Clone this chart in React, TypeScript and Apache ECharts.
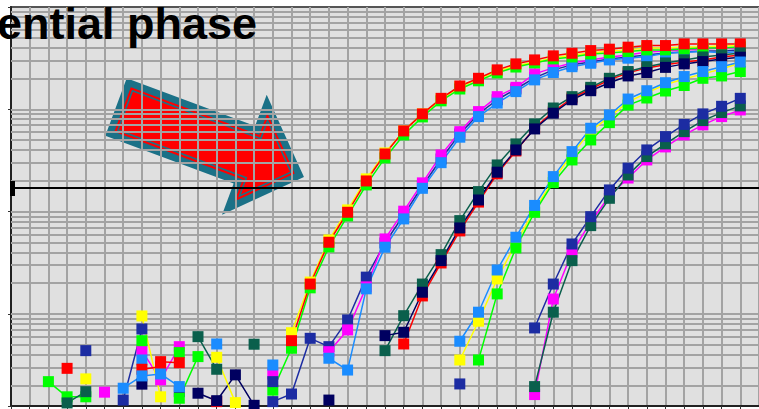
import React, { useEffect, useRef } from "react";
import * as echarts from "echarts";

const N = null;

// Fluorescence (RFU) per cycle, index = cycle 0..39 ; null = no point
const dblueB: (number | null)[] = [N, N, N, N, 43.8, N, 14.4, 71.3, N, 17.4, N, N, N, N, 13.9, 16.5, 57.8, 47.9, 87.4, 229, 494, 929, 1780, 3270, 5750, 9020, 12400, 15800, 20300, 24300, 27200, 29000, 31100, 32500, 34000, 35600, 36400, 37200, 37200, 38100];
const magentaB: (number | null)[] = [N, N, N, N, N, 17.2, N, 43.8, 22.7, 47.9, N, N, N, N, 25.9, N, N, 42.8, 69.8, 184, 541, 1010, 1910, 3580, 6050, 9500, 13300, 16400, 22200, 25400, 28400, 30400, 32500, 34000, 36400, 37200, 38100, 38900, 39800, 39800];
const azureB: (number | null)[] = [N, N, N, N, N, N, N, 35.5, N, N, N, N, N, N, 31.7, N, N, 36.9, 28.3, 176, 449, 849, 1690, 3010, 5340, 8490, 11500, 14900, 19400, 22900, 26100, 28200, 30400, 31600, 32800, 35300, 36100, 36700, 35800, 36700];
const yellowA: (number | null)[] = [N, N, N, N, 23.2, N, N, 95.6, 15.5, N, N, N, N, N, N, 65.6, 205, 529, 1040, 2090, 3750, 6150, 9020, 12600, 16600, 19800, 23700, 26600, 29000, 31800, 34000, 35600, 37200, 38100, 39800, 39800, 40700, 40700, 41700, 41700];
const greenA: (number | null)[] = [N, N, 21.8, 15.5, 15.5, N, N, 54.8, N, 41.9, N, N, N, N, 18, 46.2, 180, 452, 908, 1824, 3350, 5620, 8430, 12100, 15800, 19000, 22700, 25900, 28400, 31100, 32500, 34800, 35600, 36700, 38100, 38100, 38900, 39800, 39800, 40700];
const redA: (number | null)[] = [N, N, N, 29.4, N, N, N, N, 34.2, 33.4, N, N, N, N, N, 54.8, 196, 502, 986, 1995, 3660, 6150, 9020, 12800, 16900, 20100, 24300, 27800, 30400, 33300, 35300, 37500, 38700, 40500, 42000, 42000, 43600, 43600, 43600, 43600];
const redC: (number | null)[] = [N, N, N, N, N, N, N, 28.8, 30.5, N, N, 13.9, N, N, N, N, N, N, N, N, N, 50.9, 150, 315, 648, 1240, 2340, 3920, 6580, 9440, 12900, 15800, 19400, 22700, 25400, 27200, 29000, 30400, 32500, 34000];
const tealC: (number | null)[] = [N, N, N, 13.5, 17.4, N, N, N, N, N, 60, 28.8, N, 50.6, N, N, N, N, N, N, 43.8, 96.2, 196, 380, 817, 1570, 2860, 4590, 7200, 10300, 13300, 16400, 20100, 23400, 26100, 28400, 30400, 32500, 34000, 35600];
const navyC: (number | null)[] = [N, N, N, N, N, N, N, 20.6, N, N, 16.8, 14.2, 25.4, 12.8, N, N, N, 14.4, N, N, 61.4, 66.2, 163, 332, 693, 1300, 2430, 4010, 6430, 9160, 12400, 15200, 18200, 21200, 22900, 25700, 27800, 29300, 31100, 32300];
const yellowD: (number | null)[] = [N, N, N, N, N, N, N, N, N, N, N, 37.7, 13.6, N, N, N, N, N, N, N, N, N, N, N, 35.5, 84.9, 220, 494, 1040, 2040, 3660, 6150, 8430, 11800, 14500, 17500, 19800, 22200, 24800, 28400];
const greenD: (number | null)[] = [N, N, N, N, N, N, N, N, N, 15, 38.3, N, N, N, N, N, N, N, N, N, N, N, N, N, N, 35.5, 157, 442, 986, 1920, 3200, 5020, 7410, 11000, 12900, 15100, 17100, 20100, 21200, 23400];
const azureD: (number | null)[] = [N, N, N, N, N, N, 18.8, 24.8, 25.9, 19.5, N, 50.9, N, N, N, N, N, N, N, N, N, N, N, N, 54.1, 104, 269, 562, 1150, 2200, 3860, 6530, 8810, 12600, 15200, 18200, 20900, 23400, 26100, 29000];
const magentaE: (number | null)[] = [N, N, N, N, N, N, N, N, N, N, N, N, N, N, N, N, N, N, N, N, N, N, N, N, N, N, N, N, 16.3, 140, 401, 793, 1420, 2130, 3200, 4290, 5620, 7040, 8490, 9860];
const tealE: (number | null)[] = [N, N, N, N, N, N, N, N, N, N, N, N, N, N, N, N, N, N, N, N, N, N, N, N, N, N, N, N, 19.5, 104, 332, 730, 1350, 2280, 3450, 4590, 6050, 7760, 9290, 10800];
const dblueE: (number | null)[] = [N, N, N, N, N, N, N, N, N, N, N, N, N, N, 21.8, N, N, N, N, N, N, N, N, N, 20.7, N, N, N, 73, 196, 483, 893, 1630, 2660, 4010, 5410, 7120, 9020, 10700, 12800];

const threshold = 1700;
const decades = [10, 100, 1000, 10000];
const steps = [1, 2, 3, 4, 5, 6, 7, 8, 9];

const RED = "#ff0000";
const GREEN = "#00ff00";
const YELLOW = "#ffff00";
const MAGENTA = "#ff00ff";
const AZURE = "#1a8cff";
const DBLUE = "#1c2ca2";
const NAVY = "#000060";
const TEAL = "#0a5f4c";

const seriesList: [string, (number | null)[], string][] = [
  ["dblueB", dblueB, DBLUE],
  ["magentaB", magentaB, MAGENTA],
  ["azureB", azureB, AZURE],
  ["yellowA", yellowA, YELLOW],
  ["greenA", greenA, GREEN],
  ["redA", redA, RED],
  ["redC", redC, RED],
  ["tealC", tealC, TEAL],
  ["navyC", navyC, NAVY],
  ["yellowD", yellowD, YELLOW],
  ["greenD", greenD, GREEN],
  ["azureD", azureD, AZURE],
  ["magentaE", magentaE, MAGENTA],
  ["tealE", tealE, TEAL],
  ["dblueE", dblueE, DBLUE],
];

function inset(d: number): number[][] {
  return [
    [d, -30.7 + d],
    [137 + d, -30.7 + d],
    [137 + d, -64 + 2.425 * d],
    [200.6 - 1.41 * d, 0],
    [137 + d, 64 - 2.425 * d],
    [137 + d, 30.7 - d],
    [d, 30.7 - d],
  ];
}

export default function App() {
  const ref = useRef<HTMLDivElement>(null);
  useEffect(() => {
    if (!ref.current) return;
    const chart = echarts.init(ref.current, null, { renderer: "svg" });
    const gridVals: number[] = [];
    decades.forEach((dec) =>
      steps.forEach((s) => {
        const v = dec * s;
        if (v > 12.6 && v < 100000) gridVals.push(v);
      })
    );
    const series: any[] = seriesList.map(([name, arr, color], i) => ({
      name,
      type: "line",
      data: arr.map((v, k) => [k, v === null ? "-" : v]),
      symbol: "rect",
      symbolSize: 11,
      showSymbol: true,
      connectNulls: false,
      itemStyle: { color },
      lineStyle: { color, width: 1.5 },
      z: 2,
      ...(i === 0
        ? {
            markLine: {
              silent: true,
              z: 1,
              symbol: "none",
              label: { show: false },
              animation: false,
              data: [
                ...gridVals.map((v) => ({
                  yAxis: v,
                  lineStyle: { color: "#a3a3a3", width: 2, type: "solid" },
                })),
                {
                  yAxis: threshold,
                  lineStyle: { color: "#000000", width: 2, type: "solid" },
                },
              ],
            },
          }
        : {}),
    }));
    const teal = "#1b7187";
    chart.setOption({
      animation: false,
      grid: {
        left: 11,
        top: 7,
        width: 19.07 * 40,
        height: 399,
        show: true,
        backgroundColor: "#e0e0e0",
        borderColor: "#555555",
        borderWidth: 2,
      },
      xAxis: {
        type: "value",
        min: 0,
        max: 40,
        interval: 1,
        axisLabel: { show: false },
        axisLine: { show: true, onZero: false, lineStyle: { color: "#222222", width: 2 } },
        axisTick: { show: true, length: 3, lineStyle: { color: "#333333", width: 1 } },
        splitLine: { show: true, lineStyle: { color: "#a3a3a3", width: 2 } },
      },
      yAxis: {
        type: "log",
        logBase: 10,
        min: 12.6,
        max: 100000,
        axisLabel: { show: false },
        axisLine: { show: true, onZero: false, lineStyle: { color: "#222222", width: 2 } },
        axisTick: { show: true, length: 3, lineStyle: { color: "#333333" } },
        splitLine: { show: false },
      },
      series,
      graphic: [
        {
          type: "rect",
          z: 50,
          shape: { x: 10, y: 181, width: 5, height: 15 },
          style: { fill: "#000000" },
        },
        {
          type: "group",
          x: 116,
          y: 107,
          rotation: -0.3566,
          z: 60,
          children: [
            { type: "polygon", shape: { points: inset(0) }, style: { fill: teal } },
            { type: "polygon", shape: { points: inset(7) }, style: { fill: RED } },
            {
              type: "polygon",
              shape: { points: inset(9.8) },
              style: { fill: RED, stroke: teal, lineWidth: 1.6 },
            },
          ],
        },
        {
          type: "text",
          z: 70,
          x: -3,
          y: 1,
          style: {
            text: "ential phase",
            fill: "#000000",
            font: "bold 45px 'Liberation Sans', Arial, sans-serif",
            verticalAlign: "top",
          },
        },
      ],
    });
    return () => chart.dispose();
  }, []);
  return (
    <div
      ref={ref}
      style={{ position: "fixed", left: 0, top: 0, width: 759, height: 409, background: "#ffffff" }}
    />
  );
}
